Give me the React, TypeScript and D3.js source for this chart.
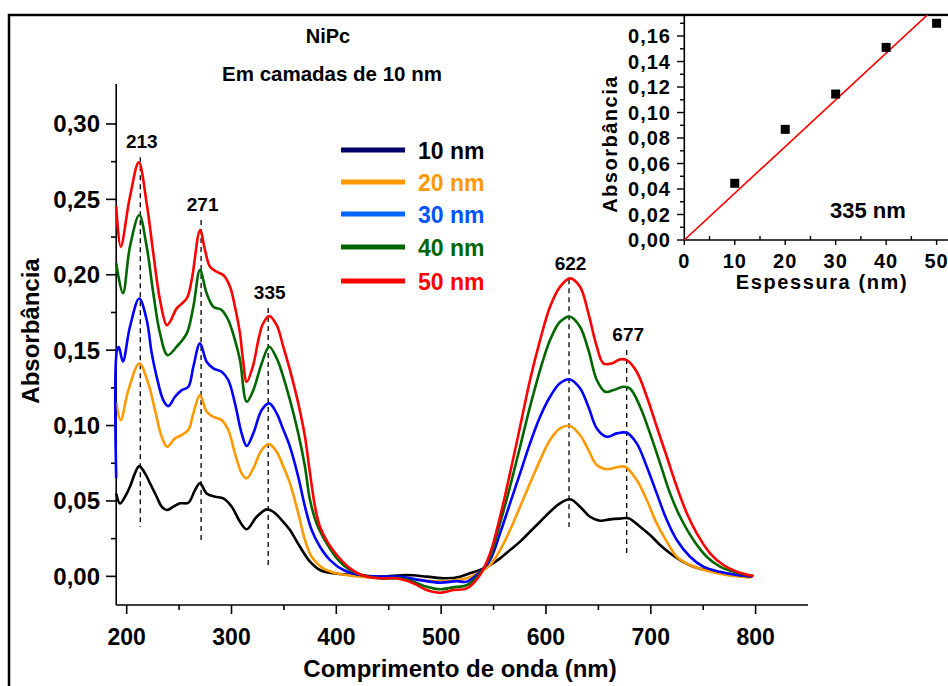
import React from "react";
import * as d3 from "d3";

// Absorbance spectra of NiPc films, wavelength (nm) vs absorbance, one array per thickness
const spectrum10: [number, number][] = [
  [190, 0.055], [193.6, 0.0484], [198.4, 0.0528], [203.1, 0.0594], [207.9, 0.0683], [212, 0.0731],
  [217.5, 0.0683], [222.3, 0.0617], [228.6, 0.0528], [233.4, 0.0462], [238.2, 0.044], [244.6, 0.0462],
  [250.9, 0.0484], [258.8, 0.0488], [265.2, 0.0572], [269.9, 0.0617], [276.3, 0.055], [284.3, 0.0528],
  [292.2, 0.0517], [300.2, 0.0462], [308.1, 0.0362], [314.5, 0.0312], [324, 0.0395], [333.6, 0.0444],
  [339.9, 0.0428], [349.4, 0.0362], [355.8, 0.0307], [365.3, 0.0196], [374.9, 0.0097], [384.4, 0.0042],
  [397.2, 0.002], [416.3, 0.0009], [441.7, -0.0002], [467.2, 0.0009], [486.3, -0.0002], [505.3, -0.0013],
  [518, -0.0002], [527.5, 0.002], [537.1, 0.0042], [546.7, 0.0075], [556.2, 0.0119], [565.7, 0.0174],
  [575.3, 0.023], [584.8, 0.0296], [594.4, 0.0362], [603.9, 0.0428], [613.4, 0.0484], [623, 0.0511],
  [632.5, 0.0462], [642, 0.0395], [651.6, 0.0369], [661.1, 0.0378], [670.7, 0.0383], [678.7, 0.0385],
  [689.8, 0.0329], [699.3, 0.0274], [708.9, 0.0208], [718.4, 0.0153], [728, 0.0108], [740.7, 0.0064],
  [756.6, 0.0037], [775.7, 0.0015], [790, -0.0002],
];

const spectrum20: [number, number][] = [
  [190, 0.1158], [194.3, 0.1036], [201.6, 0.1235], [212, 0.1412], [220.6, 0.128], [227, 0.1103],
  [233.4, 0.0926], [238.7, 0.0859], [246.1, 0.0915], [252.5, 0.0937], [258.8, 0.097], [263.6, 0.1081],
  [269.9, 0.1202], [276.3, 0.1092], [282.6, 0.1058], [290.6, 0.1036], [296.9, 0.097], [303.3, 0.0816],
  [309.7, 0.0683], [314.5, 0.065], [320.8, 0.0716], [328.8, 0.0838], [336, 0.0877], [343.1, 0.0826],
  [349, 0.0735], [355.8, 0.0617], [363.7, 0.0418], [370.1, 0.0241], [376.5, 0.013], [387.6, 0.0053],
  [403.5, 0.0015], [422.6, -0.0002], [441.7, -0.0013], [467.2, -0.0013], [486.3, -0.0029], [505.3, -0.0031],
  [524.4, -0.0013], [537.1, 0.003], [546.7, 0.0075], [556.2, 0.0174], [565.7, 0.0307], [575.3, 0.0462],
  [584.8, 0.0617], [594.4, 0.0771], [603.9, 0.0904], [613.4, 0.0981], [623, 0.0997], [632.5, 0.0937],
  [640.5, 0.0838], [648.5, 0.0738], [658, 0.071], [667.6, 0.0723], [675.5, 0.0727], [686.6, 0.0639],
  [696.2, 0.0506], [705.7, 0.0351], [715.3, 0.023], [724.8, 0.013], [737.5, 0.0075], [753.4, 0.0037],
  [772.5, 0.0009], [795, -0.0009],
];

const spectrum30: [number, number][] = [
  [190, 0.065], [190.8, 0.15], [192.5, 0.152], [196.4, 0.1425], [203.1, 0.1655], [212, 0.1843],
  [219.1, 0.17], [223.9, 0.1479], [228.6, 0.1324], [234.9, 0.1169], [239.7, 0.1129], [246.1, 0.1191],
  [252.5, 0.1235], [258.8, 0.1257], [263.6, 0.139], [269.9, 0.1545], [276.3, 0.1423], [282.6, 0.1379],
  [290.6, 0.1357], [296.9, 0.1302], [303.3, 0.1147], [309.7, 0.0948], [314.5, 0.0864], [320.8, 0.0948],
  [328.8, 0.1103], [336, 0.1147], [343.1, 0.1081], [349, 0.098], [355.8, 0.0859], [363.7, 0.066],
  [370.1, 0.0462], [376.5, 0.0307], [384.4, 0.0196], [394, 0.0108], [406.7, 0.0042], [422.6, 0.0009],
  [441.7, -0.0002], [460.8, -0.0002], [479.9, -0.0025], [498.9, -0.0042], [514.8, -0.0032], [524.4, -0.0035],
  [537.1, 0.003], [546.7, 0.0108], [556.2, 0.0285], [565.7, 0.0484], [575.3, 0.0683], [584.8, 0.0882],
  [594.4, 0.1058], [603.9, 0.1191], [613.4, 0.128], [623, 0.1306], [632.5, 0.1247], [640.5, 0.1125],
  [648.5, 0.0981], [658, 0.0926], [667.6, 0.0948], [677, 0.0952], [686.6, 0.0882], [696.2, 0.0727],
  [705.7, 0.055], [715.3, 0.0373], [724.8, 0.0241], [737.5, 0.013], [750.2, 0.0064], [766.1, 0.003],
  [782.1, 0.0009], [797, -0.0002],
];

const spectrum40: [number, number][] = [
  [190, 0.2076], [196.4, 0.1877], [203.1, 0.2186], [212, 0.2396], [219.1, 0.2186], [225.4, 0.1877],
  [231.8, 0.1611], [239, 0.1467], [247.7, 0.1523], [257.3, 0.1611], [263.6, 0.1788], [269.9, 0.2031],
  [276.3, 0.1877], [282.6, 0.1788], [290.6, 0.1766], [296.9, 0.17], [303.3, 0.1567], [308.1, 0.1434],
  [314.5, 0.1158], [320.8, 0.1235], [328.8, 0.1412], [336, 0.1523], [343.1, 0.1446], [346.3, 0.139],
  [355.8, 0.1169], [363.7, 0.0948], [370.1, 0.0727], [374.9, 0.0506], [381.2, 0.0351], [390.8, 0.0219],
  [401.9, 0.0108], [413.1, 0.0042], [424.2, 0.0009], [441.7, -0.0013], [460.8, -0.0013], [473.5, -0.0035],
  [486.3, -0.0069], [498.9, -0.0086], [511.6, -0.0073], [524.4, -0.0058], [537.1, 0.002], [546.7, 0.013],
  [556.2, 0.0351], [565.7, 0.0594], [575.3, 0.0859], [584.8, 0.1125], [594.4, 0.1368], [603.9, 0.1567],
  [613.4, 0.1688], [623, 0.1722], [632.5, 0.1655], [640.5, 0.1501], [648.5, 0.1302], [656.4, 0.1224],
  [664.4, 0.1235], [673.9, 0.1257], [680.3, 0.1245], [689.8, 0.1125], [699.3, 0.0948], [708.9, 0.0749],
  [718.4, 0.055], [728, 0.0395], [740.7, 0.0241], [753.4, 0.013], [766.1, 0.0064], [782.1, 0.0024],
  [798, 0.0002],
];

const spectrum50: [number, number][] = [
  [190, 0.2456], [194.3, 0.2186], [203.1, 0.2517], [211.5, 0.2745], [219.1, 0.2473], [225.4, 0.2142],
  [231.8, 0.1832], [238.2, 0.1666], [241.4, 0.1688], [247.7, 0.1777], [257.3, 0.1843], [262, 0.1965],
  [270, 0.2296], [274.7, 0.2164], [279.5, 0.2053], [285.9, 0.202], [292.2, 0.1998], [298.6, 0.192],
  [303.3, 0.1788], [308.1, 0.1611], [311, 0.1434], [314.5, 0.129], [320.5, 0.1395], [326, 0.158],
  [330, 0.1675], [336, 0.1726], [343.1, 0.1666], [349.4, 0.1523], [355.8, 0.1368], [363.7, 0.1147],
  [370.1, 0.0926], [374.9, 0.0683], [379.7, 0.0462], [384.4, 0.0329], [392.4, 0.0219], [401.9, 0.013],
  [413.1, 0.0053], [424.2, 0.0009], [441.7, -0.0013], [457.6, -0.0013], [473.5, -0.0046], [486.3, -0.0091],
  [498.9, -0.0109], [511.6, -0.0091], [524.4, -0.008], [537.1, 0.0009], [546.7, 0.0152], [556.2, 0.0395],
  [565.7, 0.0683], [575.3, 0.0992], [584.8, 0.1302], [594.4, 0.1567], [603.9, 0.1788], [613.4, 0.192],
  [623, 0.1976], [632.5, 0.192], [640.5, 0.1744], [648.5, 0.1523], [654.8, 0.1412], [662.8, 0.1412],
  [670.7, 0.1439], [677.1, 0.1434], [686.6, 0.1357], [696.2, 0.1191], [705.7, 0.0992], [715.3, 0.0793],
  [724.8, 0.0594], [734.4, 0.0418], [743.9, 0.0285], [756.6, 0.0153], [769.3, 0.0075], [782.1, 0.0031],
  [798, 0.0002],
];

const seriesLabels = ["10 nm", "20 nm", "30 nm", "40 nm", "50 nm"];
const seriesSpectra = [spectrum10, spectrum20, spectrum30, spectrum40, spectrum50];
const curveColors = ["#000000", "#FF9900", "#0000FF", "#006600", "#FF0000"];
const legendLineColors = ["#000066", "#FF9900", "#0066FF", "#006600", "#FF0000"];
const legendTextColors = ["#000000", "#FF9900", "#0055FF", "#006600", "#FF0000"];

// Marked absorption bands: wavelength, dashed guide from top to bottom (absorbance)
const peakWavelengths = [213, 271, 335, 622, 677];
const peakGuideTop = [0.278, 0.2363, 0.178, 0.1971, 0.1501];
const peakGuideBottom = [0.0327, 0.0227, 0.0075, 0.0327, 0.0155];

// Absorbance at 335 nm against film thickness
const insetThickness = [10, 20, 30, 40, 50];
const insetAbsorbance = [0.0445, 0.0868, 0.1145, 0.1511, 0.170];

const xMajorTicks = [200, 300, 400, 500, 600, 700, 800];
const xMinorTicks = [250, 350, 450, 550, 650, 750];
const yMajorTicks = [0, 0.05, 0.1, 0.15, 0.2, 0.25, 0.3];
const yMinorTicks = [0.025, 0.075, 0.125, 0.175, 0.225, 0.275];
const insetXMajor = [0, 10, 20, 30, 40, 50];
const insetXMinor = [5, 15, 25, 35, 45];
const insetYMajor = [0, 0.02, 0.04, 0.06, 0.08, 0.1, 0.12, 0.14, 0.16];
const insetYMinor = [0.01, 0.03, 0.05, 0.07, 0.09, 0.11, 0.13, 0.15, 0.17];

const FONT = "'Liberation Sans', Arial, Helvetica, sans-serif";
const fmt2 = (v: number) => d3.format(".2f")(v).replace(".", ",");

export default function App() {
  const W = 948;
  const H = 686;

  const x = d3.scaleLinear().domain([190, 850]).range([116.2, 808]);
  const y = d3.scaleLinear().domain([-0.019, 0.3265]).range([605, 84]);

  const ix = d3.scaleLinear().domain([0, 52.26]).range([684.3, 948]);
  const iy = d3.scaleLinear().domain([0, 0.1765]).range([240, 15]);

  const line = d3
    .line<[number, number]>()
    .x((d) => x(d[0]))
    .y((d) => y(d[1]))
    .curve(d3.curveCatmullRom.alpha(0.5));

  // least-squares slope of a line through the origin
  const sxy = d3.sum(insetThickness, (t, i) => t * insetAbsorbance[i]);
  const sxx = d3.sum(insetThickness, (t) => t * t);
  const slope = sxy / sxx;
  const fitEnd = ix.domain()[1];

  const legendY = [150, 182, 214, 247, 281];

  return (
    <svg
      width={W}
      height={H}
      style={{ position: "absolute", left: 0, top: 0, background: "#fff" }}
      fontFamily={FONT}
      fontWeight="bold"
    >
      <defs>
        <clipPath id="inset-clip">
          <rect x={684.3} y={15} width={W - 684.3} height={225} />
        </clipPath>
      </defs>
      <rect x={0} y={0} width={W} height={H} fill="#fff" />

      {/* outer frame */}
      <rect x={9} y={15} width={W + 20} height={H + 20} fill="none" stroke="#000" strokeWidth={2.5} />

      {/* titles */}
      <text x={328} y={43} textAnchor="middle" fontSize={20}>NiPc</text>
      <text x={332} y={81} textAnchor="middle" fontSize={20.5}>Em camadas de 10 nm</text>

      {/* main axes */}
      <line x1={x(190)} x2={x(190)} y1={y.range()[1]} y2={y.range()[0]} stroke="#000" strokeWidth={1.6} />
      <line x1={x(190)} x2={x(850)} y1={y.range()[0]} y2={y.range()[0]} stroke="#000" strokeWidth={1.6} />
      {xMajorTicks.map((t) => (
        <g key={"xm" + t}>
          <line x1={x(t)} x2={x(t)} y1={605} y2={614} stroke="#000" strokeWidth={1.6} />
          <text x={x(t)} y={645} textAnchor="middle" fontSize={23}>{t}</text>
        </g>
      ))}
      {xMinorTicks.map((t) => (
        <line key={"xn" + t} x1={x(t)} x2={x(t)} y1={605} y2={610} stroke="#000" strokeWidth={1.6} />
      ))}
      {yMajorTicks.map((t) => (
        <g key={"ym" + t}>
          <line x1={106} x2={116.2} y1={y(t)} y2={y(t)} stroke="#000" strokeWidth={1.6} />
          <text x={100} y={y(t) + 8.5} textAnchor="end" fontSize={24}>{fmt2(t)}</text>
        </g>
      ))}
      {yMinorTicks.map((t) => (
        <line key={"yn" + t} x1={111} x2={116.2} y1={y(t)} y2={y(t)} stroke="#000" strokeWidth={1.6} />
      ))}
      <text x={460} y={677} textAnchor="middle" fontSize={24}>Comprimento de onda (nm)</text>
      <text transform="translate(39,331) rotate(-90)" textAnchor="middle" fontSize={24}>Absorbância</text>

      {/* peak guides */}
      {peakWavelengths.map((w, i) => (
        <line
          key={"pk" + w}
          x1={x(w)}
          x2={x(w)}
          y1={y(peakGuideTop[i])}
          y2={y(peakGuideBottom[i])}
          stroke="#000"
          strokeWidth={1.3}
          strokeDasharray="5,4"
        />
      ))}

      {/* spectra */}
      {seriesSpectra.map((s, i) => (
        <path key={"sp" + i} d={line(s) || ""} fill="none" stroke={curveColors[i]} strokeWidth={2.6} strokeLinejoin="round" />
      ))}

      {peakWavelengths.map((w, i) => (
        <text key={"pl" + w} x={x(w) + 1.5} y={y(peakGuideTop[i]) - 9} textAnchor="middle" fontSize={19}>
          {w}
        </text>
      ))}

      {/* legend */}
      {seriesLabels.map((lab, i) => (
        <g key={"lg" + i}>
          <line x1={341} x2={405} y1={legendY[i]} y2={legendY[i]} stroke={legendLineColors[i]} strokeWidth={5} />
          <text x={418} y={legendY[i] + 8.5} fontSize={23} fill={legendTextColors[i]}>{lab}</text>
        </g>
      ))}

      {/* inset */}
      <g>
        <rect x={684.3} y={16.5} width={W - 684.3} height={223.5} fill="#fff" />
        <line x1={684.3} x2={684.3} y1={15} y2={240} stroke="#000" strokeWidth={1.6} />
        <line x1={684.3} x2={W} y1={240} y2={240} stroke="#000" strokeWidth={1.6} />
        {insetYMajor.map((t) => (
          <g key={"iym" + t}>
            <line x1={677} x2={684.3} y1={iy(t)} y2={iy(t)} stroke="#000" strokeWidth={1.4} />
            <text x={671} y={iy(t) + 7} textAnchor="end" fontSize={20} letterSpacing={1}>{fmt2(t)}</text>
          </g>
        ))}
        {insetYMinor.map((t) => (
          <line key={"iyn" + t} x1={680} x2={684.3} y1={iy(t)} y2={iy(t)} stroke="#000" strokeWidth={1.4} />
        ))}
        {insetXMajor.map((t) => (
          <g key={"ixm" + t}>
            <line x1={ix(t)} x2={ix(t)} y1={240} y2={245} stroke="#000" strokeWidth={1.4} />
            <text x={ix(t)} y={268} textAnchor="middle" fontSize={20} letterSpacing={1}>{t}</text>
          </g>
        ))}
        {insetXMinor.map((t) => (
          <line key={"ixn" + t} x1={ix(t)} x2={ix(t)} y1={236} y2={240} stroke="#000" strokeWidth={1.4} />
        ))}
        <g clipPath="url(#inset-clip)">
          <line
            x1={ix(0)}
            y1={iy(0)}
            x2={ix(fitEnd)}
            y2={iy(slope * fitEnd)}
            stroke="#FF0000"
            strokeWidth={1.6}
          />
          {insetThickness.map((t, i) => (
            <rect key={"sq" + t} x={ix(t) - 4.5} y={iy(insetAbsorbance[i]) - 4.5} width={9} height={9} fill="#000" />
          ))}
        </g>
        <text x={830} y={218} fontSize={22}>335 nm</text>
        <text x={822} y={289} textAnchor="middle" fontSize={20} letterSpacing={1.6}>Espessura (nm)</text>
        <text transform="translate(617,144) rotate(-90)" textAnchor="middle" fontSize={20} letterSpacing={1.5}>
          Absorbância
        </text>
      </g>
    </svg>
  );
}
